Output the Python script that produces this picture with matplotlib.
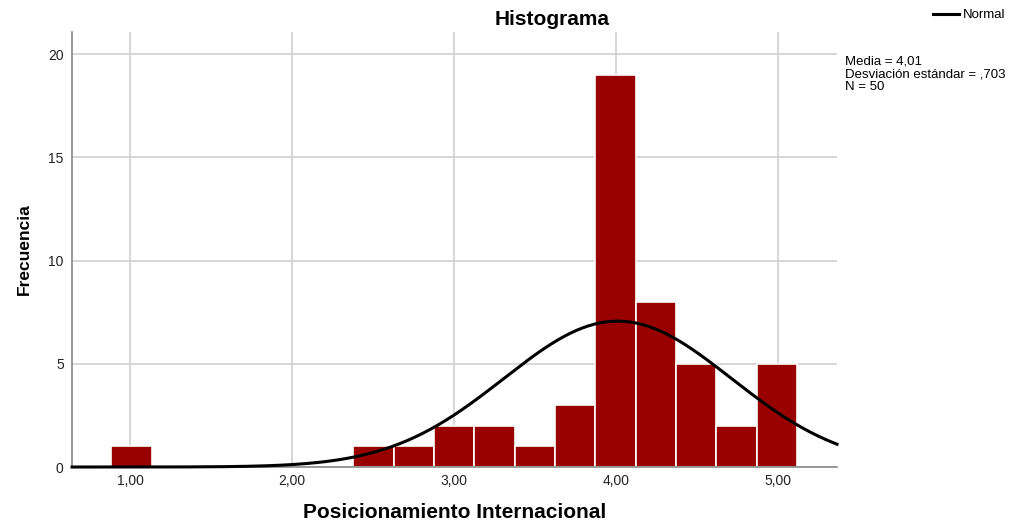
import matplotlib.pyplot as plt
import numpy as np

plt.rcParams['font.family'] = ['Liberation Sans', 'DejaVu Sans']

# histogram data (bin width ~0.25)
bin_start = 0.885
bin_width = 0.249
counts = [1, 0, 0, 0, 0, 0, 1, 1, 2, 2, 1, 3, 19, 8, 5, 2, 5]
media = 4.01
desv = 0.703
n = 50
xticks = [1, 2, 3, 4, 5]
xtick_labels = ['1,00', '2,00', '3,00', '4,00', '5,00']
yticks = [0, 5, 10, 15, 20]

fig = plt.figure(figsize=(10.26, 5.21), dpi=100)
ax = fig.add_axes([0.0702, 0.1036, 0.7456, 0.835])

lefts = bin_start + bin_width * np.arange(len(counts))
ax.bar(lefts, counts, width=bin_width, align='edge', color='#990000',
       edgecolor='white', linewidth=1.2, zorder=2)

xs = np.linspace(0.642, 5.364, 400)
ys = n * bin_width * np.exp(-0.5 * ((xs - media) / desv) ** 2) / (desv * np.sqrt(2 * np.pi))
line, = ax.plot(xs, ys, color='black', linewidth=2.2, zorder=3, clip_on=False)

ax.set_xlim(0.642, 5.364)
ax.set_ylim(0, 21.07)
ax.set_xticks(xticks)
ax.set_xticklabels(xtick_labels)
ax.set_yticks(yticks)
ax.tick_params(axis='x', length=0, labelsize=10, colors='#222222', pad=5)
ax.tick_params(axis='y', length=0, labelsize=10, colors='#222222', pad=6)
ax.grid(True, color='#d0d0d0', linewidth=1.2, zorder=0)
ax.set_axisbelow(True)
for s in ['top', 'right']:
    ax.spines[s].set_visible(False)
for s in ['left', 'bottom']:
    ax.spines[s].set_color('#888888')
    ax.spines[s].set_linewidth(1.2)

ax.set_xlabel('Posicionamiento Internacional', fontsize=15, fontweight='bold', labelpad=11)
ax.set_ylabel('Frecuencia', fontsize=12.5, fontweight='bold', labelpad=12)
fig.text(0.538, 0.962, 'Histograma', fontsize=15, fontweight='bold', ha='center', va='center')

fig.legend([line], ['Normal'], loc='center left', bbox_to_anchor=(0.909, 0.971),
           frameon=False, fontsize=9.5, handlelength=2.0, handletextpad=0.3,
           borderpad=0, borderaxespad=0)
fig.text(0.824, 0.893, 'Media = 4,01\nDesviación estándar = ,703\nN = 50',
         fontsize=9.5, va='top', ha='left', linespacing=1.05)

plt.savefig('out.png', dpi=100)
